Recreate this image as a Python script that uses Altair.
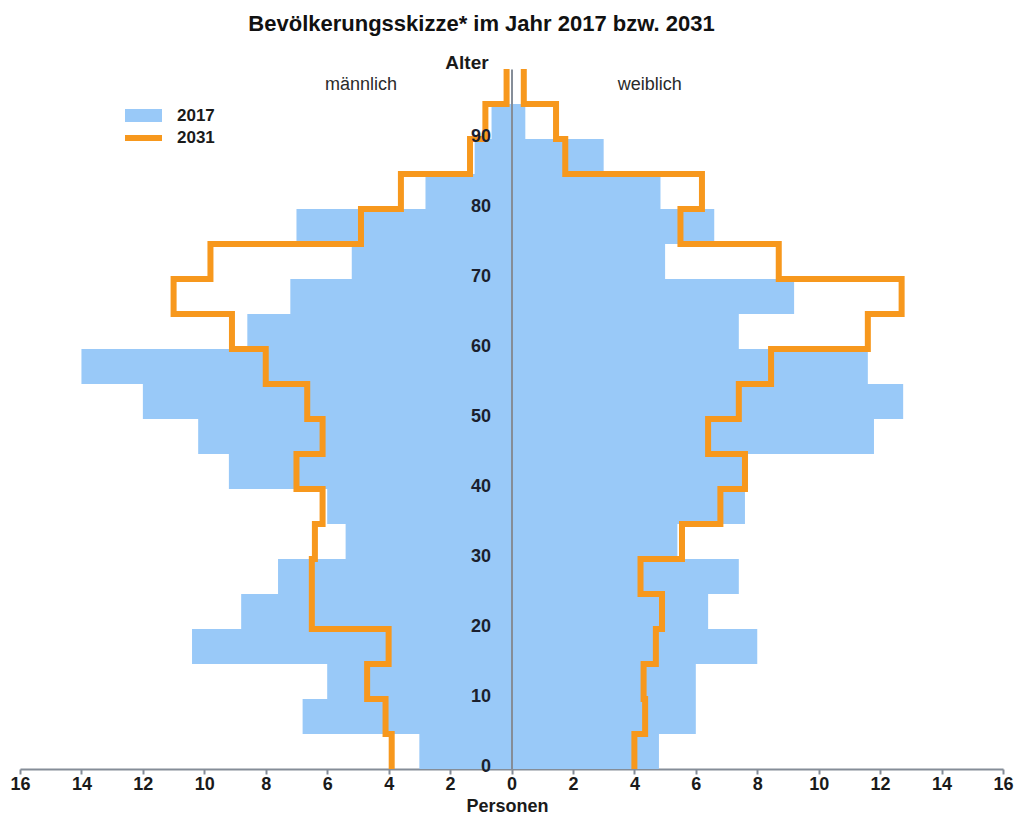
import altair as alt
import pandas as pd

# ---- data (5-year age groups, persons) ----
age_start = [0, 5, 10, 15, 20, 25, 30, 35, 40, 45, 50, 55, 60, 65, 70, 75, 80, 85, 90, 95]
male_2017 = [3.0, 6.8, 6.0, 10.4, 8.8, 7.6, 5.4, 6.0, 9.2, 10.2, 12.0, 14.0, 8.6, 7.2, 5.2, 7.0, 2.8, 1.2, 0.65, 0.0]
female_2017 = [4.8, 6.0, 6.0, 8.0, 6.4, 7.4, 5.4, 7.6, 7.7, 11.8, 12.75, 11.6, 7.4, 9.2, 5.0, 6.6, 4.85, 3.0, 0.45, 0.0]
male_2031 = [3.9, 4.1, 4.7, 4.0, 6.5, 6.5, 6.4, 6.15, 7.0, 6.15, 6.65, 8.0, 9.1, 11.0, 9.8, 4.9, 3.6, 1.35, 0.85, 0.16]
female_2031 = [4.0, 4.35, 4.3, 4.7, 4.9, 4.2, 5.55, 6.8, 7.6, 6.4, 7.4, 8.45, 11.6, 12.7, 8.7, 5.5, 6.2, 1.75, 1.45, 0.4]
x_ticks = list(range(-16, 17, 2))
y_ticks = list(range(0, 100, 10))
side_labels = ["männlich", "weiblich"]
side_label_x = [-4.9, 4.5]
side_label_y = [97.7, 97.7]

FONT = "Liberation Sans, Arial, sans-serif"
BLUE = "#99C9F8"
ORANGE = "#F7981D"
GREY = "#858d98"
W, H = 983, 700

# ---- tables ----
bar_rows = []
for i, a in enumerate(age_start):
    if male_2017[i] > 0:
        bar_rows.append(dict(x0=0, x1=-male_2017[i], a0=a, a1=a + 5, jb="2017"))
    if female_2017[i] > 0:
        bar_rows.append(dict(x0=0, x1=female_2017[i], a0=a, a1=a + 5, jb="2017"))
df_bar = pd.DataFrame(bar_rows)

line_rows = []
for side, vals, sign in [("m", male_2031, -1), ("w", female_2031, 1)]:
    k = 0
    for i, a in enumerate(age_start):
        for age in (a, a + 5):
            line_rows.append(dict(side=side, xv=sign * vals[i], alter=age, ord=k, jl="2031"))
            k += 1
df_line = pd.DataFrame(line_rows)

df_txt = pd.DataFrame(dict(t=side_labels, tx=side_label_x, ty=side_label_y))

xscale = alt.Scale(domain=[-16, 16], nice=False, zero=False)
yscale = alt.Scale(domain=[0, 100], nice=False, zero=False)

xaxis = alt.Axis(
    values=x_ticks, labelExpr="format(abs(datum.value), 'd')", labelFlush=False, grid=False,
    domainColor=GREY, domainWidth=2, tickColor=GREY, tickWidth=2, tickSize=5,
    labelFont=FONT, labelFontSize=18, labelFontWeight="bold", labelColor="#1a1a1a",
    labelPadding=1, title="Personen", titleFont=FONT, titleFontSize=18,
    titleFontWeight="bold", titleColor="#1a1a1a", titlePadding=4, titleX=487,
)
yaxis = alt.Axis(
    values=y_ticks, orient="left", offset=-W / 2, ticks=False, tickSize=0, grid=False,
    domainColor=GREY, domainWidth=2, labelFont=FONT, labelFontSize=18,
    labelFontWeight="bold", labelColor="#1b1f2e", labelPadding=21, labelOffset=-3,
    labelFlush=False, labelOverlap=False, labelAlign="right", labelBaseline="middle",
    title="Alter", titleAngle=0, titleAlign="center", titleBaseline="middle",
    titleX=-45, titleY=-7, titleFont=FONT, titleFontSize=19, titleFontWeight="bold",
    titleColor="#1a1a1a", zindex=1,
)

bars = alt.Chart(df_bar).mark_rect().encode(
    x=alt.X("x0:Q", scale=xscale, axis=xaxis),
    x2="x1:Q",
    y=alt.Y("a0:Q", scale=yscale, axis=yaxis),
    y2="a1:Q",
    fill=alt.Fill(
        "jb:N", scale=alt.Scale(domain=["2017"], range=[BLUE]),
        legend=alt.Legend(
            title=None, orient="none", legendX=105, legendY=28, padding=0,
            symbolType="M-1,-0.35H1V0.35H-1Z", symbolSize=1369, symbolStrokeWidth=0,
            symbolOpacity=1, labelFont=FONT, labelFontSize=17, labelFontWeight="bold",
            labelColor="#1a1a1a", labelOffset=15,
        ),
    ),
)

line = alt.Chart(df_line).mark_line(strokeWidth=6, strokeJoin="miter", strokeCap="butt").encode(
    x=alt.X("xv:Q", scale=xscale, axis=xaxis),
    y=alt.Y("alter:Q", scale=yscale, axis=yaxis),
    detail="side:N",
    order="ord:Q",
    stroke=alt.Stroke(
        "jl:N", scale=alt.Scale(domain=["2031"], range=[ORANGE]),
        legend=alt.Legend(
            title=None, orient="none", legendX=102, legendY=47.5, padding=0,
            symbolType="stroke", symbolSize=1369, symbolStrokeWidth=6,
            labelFont=FONT, labelFontSize=17, labelFontWeight="bold",
            labelColor="#1a1a1a", labelOffset=12,
        ),
    ),
)

texts = alt.Chart(df_txt).mark_text(font=FONT, fontSize=18, color="#2a2a2a").encode(
    x=alt.X("tx:Q", scale=xscale, axis=xaxis),
    y=alt.Y("ty:Q", scale=yscale, axis=yaxis),
    text="t:N",
)

chart = alt.layer(bars, line, texts).properties(
    width=W, height=H,
    background="white",
    title=alt.TitleParams(
        "Bevölkerungsskizze* im Jahr 2017 bzw. 2031", font=FONT, fontSize=22,
        fontWeight="bold", color="#111111", anchor="middle", frame="group",
        dx=-30, offset=17,
    ),
    autosize=alt.AutoSizeParams(type="none"),
    padding={"left": 12, "top": 61, "right": 16, "bottom": 48},
).configure_view(stroke=None)

chart.save("out.html", embed_options={"renderer": "svg", "actions": False})
